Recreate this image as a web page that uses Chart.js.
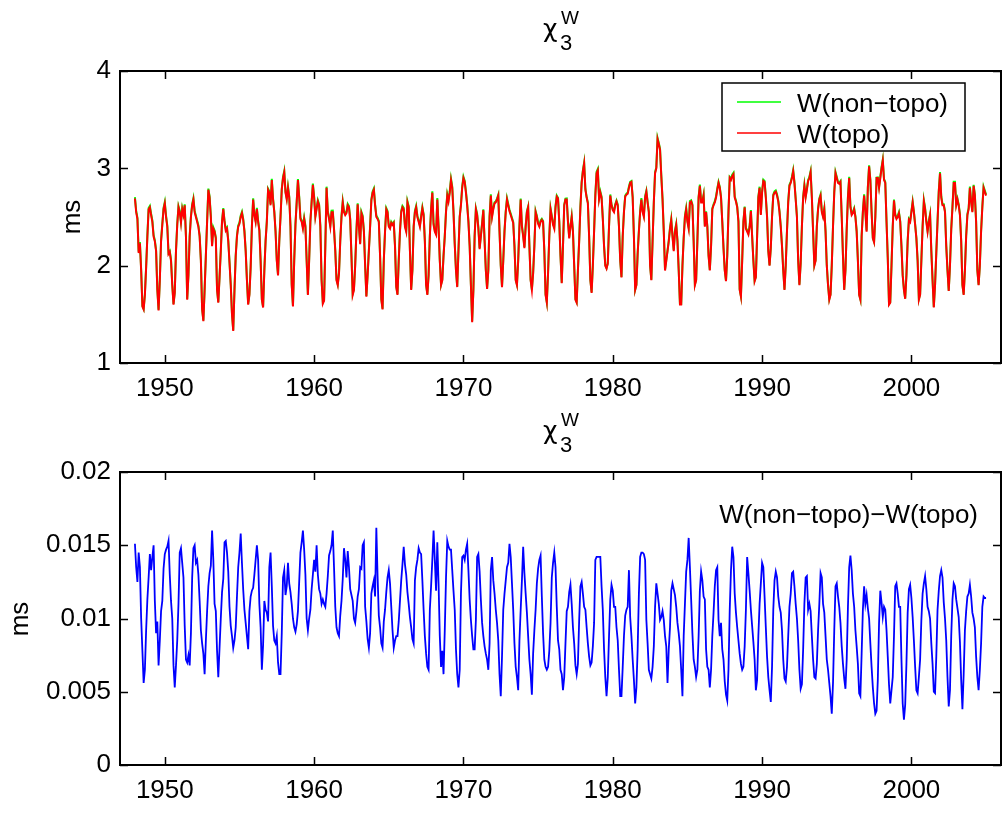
<!DOCTYPE html>
<html>
<head>
<meta charset="utf-8">
<script src="https://cdn.jsdelivr.net/npm/chart.js@4.4.1/dist/chart.umd.min.js"></script>
<style>
  body { margin: 0; background: #fff; }
  canvas { position: absolute; left: 0; }
</style>
</head>
<body>
<canvas id="topoChart" width="1005" height="402" style="top:0"></canvas>
<canvas id="diffChart" width="1005" height="411" style="top:402px"></canvas>
<script>
// monthly samples, first one at 1948.0
const startYear = 1948;
const stepsPerYear = 12;

const xTicks = [1950, 1960, 1970, 1980, 1990, 2000];
const topoTicks = [1, 2, 3, 4];
const diffTicks = [0, 0.005, 0.01, 0.015, 0.02];

const seriesNames = ["W(non\u2212topo)", "W(topo)"];
const diffName = "W(non\u2212topo)\u2212W(topo)";

// W(topo), ms
const wTopo = [
  2.69, 2.55, 2.48, 2.13, 2.23, 1.95, 1.58, 1.55, 1.70, 1.98, 2.30, 2.58, // 1948
  2.60, 2.52, 2.45, 2.30, 2.25, 2.15, 1.75, 1.54, 1.85, 2.25, 2.42, 2.58,
  2.64, 2.50, 2.40, 2.12, 2.14, 2.05, 1.80, 1.60, 1.72, 2.15, 2.42, 2.60, // 1950
  2.55, 2.44, 2.58, 2.52, 2.62, 2.30, 1.65, 1.90, 2.30, 2.50, 2.62, 2.68,
  2.55, 2.50, 2.45, 2.40, 2.30, 2.05, 1.55, 1.43, 1.75, 2.10, 2.45, 2.78,
  2.70, 2.50, 2.20, 2.38, 2.35, 2.28, 1.75, 1.62, 1.88, 2.15, 2.45, 2.58,
  2.45, 2.36, 2.38, 2.25, 2.03, 1.80, 1.50, 1.33, 1.75, 2.10, 2.30, 2.40,
  2.43, 2.50, 2.54, 2.47, 2.35, 2.15, 1.85, 1.60, 1.70, 1.98, 2.40, 2.68, // 1955
  2.52, 2.45, 2.58, 2.45, 2.36, 2.05, 1.65, 1.57, 1.95, 2.25, 2.45, 2.78,
  2.75, 2.62, 2.88, 2.68, 2.55, 2.35, 2.05, 1.90, 2.25, 2.50, 2.78, 2.90,
  2.96, 2.75, 2.68, 2.80, 2.70, 2.40, 1.80, 1.58, 2.05, 2.42, 2.65, 2.88,
  2.70, 2.48, 2.45, 2.38, 2.48, 2.40, 2.05, 1.70, 2.05, 2.45, 2.65, 2.83,
  2.70, 2.50, 2.58, 2.66, 2.62, 2.40, 1.85, 1.61, 1.64, 2.20, 2.80, 2.55, // 1960
  2.48, 2.40, 2.55, 2.55, 2.37, 2.15, 1.85, 1.80, 1.92, 2.25, 2.50, 2.65,
  2.55, 2.52, 2.54, 2.62, 2.60, 2.47, 2.10, 1.70, 1.75, 2.00, 2.35, 2.63,
  2.40, 2.22, 2.54, 2.50, 2.35, 2.00, 1.68, 1.90, 2.15, 2.40, 2.67, 2.75,
  2.78, 2.62, 2.50, 2.48, 2.45, 2.10, 1.65, 1.55, 2.05, 2.35, 2.58, 2.55,
  2.40, 2.38, 2.44, 2.42, 2.44, 2.20, 1.78, 1.70, 2.05, 2.35, 2.55, 2.60, // 1965
  2.58, 2.40, 2.35, 2.65, 2.60, 2.15, 1.75, 1.95, 2.40, 2.55, 2.60, 2.50,
  2.45, 2.40, 2.50, 2.59, 2.52, 2.25, 1.80, 1.70, 1.90, 2.30, 2.58, 2.75,
  2.42, 2.35, 2.32, 2.68, 2.40, 2.05, 1.80, 1.85, 2.10, 2.30, 2.55, 2.72,
  2.66, 2.75, 2.88, 2.80, 2.55, 2.22, 1.95, 1.78, 2.15, 2.50, 2.62, 2.80,
  2.90, 2.86, 2.75, 2.62, 2.45, 2.20, 1.80, 1.42, 1.75, 2.30, 2.58, 2.52, // 1970
  2.38, 2.17, 2.30, 2.43, 2.57, 2.25, 1.95, 1.76, 1.95, 2.50, 2.72, 2.50,
  2.58, 2.64, 2.65, 2.68, 2.72, 2.35, 2.00, 1.78, 2.05, 2.35, 2.55, 2.68,
  2.62, 2.56, 2.52, 2.48, 2.44, 2.20, 1.85, 1.80, 2.05, 2.40, 2.68, 2.40,
  2.30, 2.18, 2.40, 2.55, 2.60, 2.20, 1.85, 1.75, 1.92, 2.20, 2.55, 2.50,
  2.43, 2.40, 2.45, 2.47, 2.45, 2.15, 1.70, 1.62, 1.92, 2.30, 2.58, 2.50, // 1975
  2.42, 2.38, 2.60, 2.71, 2.69, 2.45, 2.10, 1.82, 2.20, 2.62, 2.68, 2.68,
  2.45, 2.28, 2.40, 2.50, 2.35, 2.00, 1.65, 1.62, 1.95, 2.25, 2.60, 2.85,
  2.97, 3.05, 2.78, 2.70, 2.64, 2.30, 1.85, 1.72, 2.00, 2.35, 2.72, 2.95,
  2.98, 2.68, 2.75, 2.70, 2.48, 2.20, 2.00, 1.97, 2.02, 2.40, 2.72, 2.62,
  2.57, 2.55, 2.62, 2.66, 2.62, 2.40, 2.05, 1.88, 2.30, 2.55, 2.71, 2.73, // 1980
  2.74, 2.80, 2.85, 2.86, 2.70, 2.30, 1.75, 1.80, 2.12, 2.35, 2.55, 2.68,
  2.55, 2.50, 2.70, 2.76, 2.65, 2.55, 2.00, 1.85, 2.25, 2.65, 2.95, 3.00,
  3.30, 3.25, 3.19, 2.92, 2.68, 2.35, 1.95, 2.05, 2.15, 2.25, 2.38, 2.47,
  2.30, 2.15, 2.35, 2.42, 2.25, 1.95, 1.60, 1.60, 2.00, 2.28, 2.50, 2.58,
  2.45, 2.38, 2.65, 2.66, 2.62, 2.25, 1.80, 1.85, 2.25, 2.70, 2.82, 2.65, // 1985
  2.65, 2.72, 2.40, 2.55, 2.40, 2.10, 1.95, 2.20, 2.58, 2.62, 2.65, 2.70,
  2.78, 2.85, 2.80, 2.70, 2.45, 2.18, 1.95, 1.84, 2.10, 2.55, 2.90, 2.88,
  2.92, 2.94, 2.70, 2.66, 2.60, 2.45, 1.75, 1.68, 2.05, 2.45, 2.60, 2.38,
  2.35, 2.32, 2.40, 2.56, 2.30, 2.05, 1.84, 1.88, 2.30, 2.70, 2.80, 2.52,
  2.75, 2.87, 2.86, 2.70, 2.50, 2.15, 2.00, 2.18, 2.50, 2.72, 2.75, 2.76, // 1990
  2.72, 2.66, 2.55, 2.40, 2.20, 1.95, 1.75, 2.00, 2.35, 2.65, 2.82, 2.85,
  2.90, 2.97, 2.85, 2.68, 2.50, 2.05, 1.80, 2.02, 2.40, 2.70, 2.82, 2.70,
  2.78, 2.87, 2.90, 2.96, 2.70, 2.35, 2.00, 2.05, 2.40, 2.58, 2.68, 2.72,
  2.55, 2.50, 2.58, 2.35, 2.00, 1.80, 1.65, 1.70, 2.00, 2.40, 2.75, 2.95,
  2.90, 2.85, 2.84, 2.86, 2.50, 2.10, 1.75, 1.95, 2.37, 2.70, 2.90, 2.60, // 1995
  2.52, 2.54, 2.58, 2.50, 2.35, 2.05, 1.70, 1.65, 2.30, 2.55, 2.72, 2.55,
  2.35, 2.80, 3.02, 2.88, 2.55, 2.28, 2.24, 2.50, 2.90, 2.90, 2.80, 2.90,
  3.00, 3.08, 2.88, 2.85, 2.45, 2.08, 1.60, 1.62, 2.00, 2.40, 2.67, 2.52,
  2.48, 2.50, 2.54, 2.45, 2.20, 1.90, 1.75, 1.66, 1.90, 2.25, 2.47, 2.45,
  2.55, 2.65, 2.55, 2.42, 2.28, 2.05, 1.65, 1.70, 2.05, 2.40, 2.66, 2.58, // 2000
  2.45, 2.35, 2.45, 2.52, 2.15, 1.85, 1.57, 1.80, 2.13, 2.45, 2.76, 2.95,
  2.70, 2.62, 2.62, 2.55, 2.20, 1.95, 1.74, 2.00, 2.37, 2.60, 2.85, 2.85,
  2.62, 2.68, 2.62, 2.52, 2.25, 1.80, 1.70, 1.95, 2.30, 2.52, 2.58, 2.80,
  2.65, 2.55, 2.82, 2.72, 2.45, 1.95, 1.80, 2.00, 2.35, 2.60, 2.80, 2.76,
  2.72 // 2005
];

// W(non-topo) - W(topo), ms
const wDiff = [
  .0151, .0135, .0125, .0145, .0135, .0100, .0078, .0056, .0065, .0092, .0113, .0128, // 1948
  .0144, .0133, .0142, .0150, .0112, .0090, .0098, .0068, .0085, .0105, .0112, .0134,
  .0144, .0147, .0149, .0153, .0130, .0112, .0100, .0068, .0053, .0068, .0085, .0110, // 1950
  .0145, .0148, .0138, .0128, .0095, .0072, .0070, .0075, .0068, .0090, .0128, .0148,
  .0150, .0138, .0140, .0130, .0112, .0092, .0083, .0076, .0062, .0085, .0105, .0122,
  .0131, .0136, .0160, .0140, .0110, .0105, .0078, .0060, .0080, .0100, .0118, .0127,
  .0152, .0153, .0145, .0132, .0108, .0095, .0088, .0080, .0085, .0094, .0115, .0135,
  .0145, .0158, .0138, .0120, .0106, .0097, .0088, .0079, .0105, .0115, .0119, .0121, // 1955
  .0130, .0140, .0150, .0140, .0110, .0094, .0065, .0082, .0112, .0106, .0104, .0098,
  .0135, .0145, .0122, .0095, .0085, .0083, .0088, .0070, .0062, .0062, .0090, .0128,
  .0133, .0116, .0122, .0138, .0124, .0118, .0110, .0100, .0094, .0091, .0096, .0105,
  .0125, .0145, .0152, .0160, .0147, .0130, .0100, .0092, .0100, .0106, .0120, .0130,
  .0140, .0132, .0150, .0130, .0120, .0117, .0110, .0113, .0110, .0108, .0117, .0129, // 1960
  .0143, .0146, .0150, .0160, .0135, .0108, .0094, .0090, .0088, .0102, .0112, .0127,
  .0148, .0140, .0128, .0146, .0135, .0120, .0116, .0112, .0100, .0097, .0105, .0115,
  .0120, .0135, .0134, .0150, .0152, .0108, .0098, .0086, .0080, .0090, .0117, .0122,
  .0126, .0115, .0162, .0129, .0102, .0094, .0083, .0080, .0098, .0106, .0118, .0128,
  .0133, .0124, .0108, .0092, .0080, .0085, .0088, .0088, .0098, .0112, .0126, .0137, // 1965
  .0149, .0137, .0130, .0118, .0110, .0101, .0094, .0086, .0083, .0126, .0135, .0140,
  .0148, .0145, .0144, .0126, .0106, .0088, .0076, .0067, .0065, .0106, .0122, .0140,
  .0160, .0140, .0119, .0152, .0124, .0088, .0067, .0078, .0062, .0092, .0128, .0153,
  .0149, .0147, .0147, .0133, .0119, .0106, .0079, .0062, .0053, .0065, .0117, .0142,
  .0143, .0140, .0147, .0151, .0133, .0113, .0099, .0088, .0079, .0079, .0099, .0142, // 1970
  .0144, .0132, .0113, .0097, .0088, .0081, .0076, .0072, .0065, .0083, .0133, .0142,
  .0126, .0117, .0106, .0097, .0085, .0062, .0047, .0074, .0106, .0117, .0126, .0135,
  .0138, .0151, .0142, .0124, .0106, .0083, .0067, .0060, .0051, .0085, .0106, .0126,
  .0149, .0131, .0117, .0104, .0088, .0072, .0062, .0048, .0076, .0092, .0106, .0124,
  .0134, .0140, .0143, .0115, .0090, .0072, .0067, .0065, .0067, .0078, .0097, .0128, // 1975
  .0138, .0145, .0135, .0108, .0085, .0079, .0065, .0062, .0051, .0060, .0083, .0105,
  .0108, .0118, .0123, .0110, .0094, .0083, .0068, .0062, .0069, .0099, .0122, .0125,
  .0117, .0108, .0106, .0094, .0083, .0074, .0068, .0070, .0081, .0097, .0140, .0142,
  .0142, .0142, .0142, .0122, .0106, .0079, .0060, .0047, .0060, .0088, .0113, .0123,
  .0119, .0108, .0108, .0094, .0085, .0065, .0047, .0047, .0067, .0088, .0102, .0106, // 1980
  .0108, .0133, .0101, .0088, .0072, .0058, .0042, .0053, .0079, .0117, .0142, .0145,
  .0145, .0144, .0140, .0099, .0083, .0065, .0062, .0059, .0067, .0081, .0108, .0124,
  .0117, .0110, .0099, .0101, .0105, .0099, .0088, .0081, .0056, .0079, .0094, .0119,
  .0124, .0120, .0116, .0108, .0097, .0090, .0081, .0065, .0047, .0088, .0110, .0132,
  .0140, .0155, .0135, .0113, .0090, .0072, .0067, .0060, .0065, .0088, .0119, .0132, // 1985
  .0126, .0115, .0113, .0079, .0067, .0065, .0053, .0065, .0088, .0104, .0122, .0133,
  .0135, .0099, .0088, .0097, .0079, .0072, .0057, .0048, .0044, .0065, .0106, .0133,
  .0149, .0142, .0117, .0104, .0094, .0085, .0076, .0069, .0065, .0067, .0081, .0106,
  .0142, .0131, .0119, .0106, .0095, .0084, .0072, .0051, .0058, .0088, .0110, .0124,
  .0138, .0135, .0115, .0094, .0074, .0060, .0051, .0043, .0067, .0106, .0126, .0132, // 1990
  .0128, .0115, .0108, .0104, .0092, .0072, .0059, .0057, .0067, .0088, .0108, .0117,
  .0131, .0132, .0122, .0110, .0100, .0085, .0065, .0052, .0055, .0079, .0110, .0128,
  .0129, .0106, .0110, .0105, .0088, .0072, .0060, .0059, .0069, .0092, .0110, .0131,
  .0128, .0110, .0104, .0088, .0072, .0065, .0056, .0047, .0035, .0056, .0092, .0122,
  .0124, .0115, .0108, .0097, .0081, .0069, .0059, .0052, .0072, .0108, .0135, .0143, // 1995
  .0133, .0117, .0108, .0092, .0081, .0069, .0049, .0047, .0076, .0106, .0122, .0110,
  .0116, .0107, .0100, .0083, .0067, .0053, .0042, .0035, .0037, .0058, .0097, .0119,
  .0111, .0101, .0108, .0106, .0092, .0074, .0055, .0042, .0051, .0060, .0088, .0122,
  .0124, .0117, .0108, .0108, .0072, .0042, .0031, .0041, .0069, .0104, .0120, .0123,
  .0114, .0101, .0085, .0067, .0051, .0049, .0060, .0072, .0099, .0117, .0124, .0129, // 2000
  .0120, .0108, .0105, .0100, .0083, .0069, .0050, .0049, .0074, .0106, .0119, .0129,
  .0133, .0128, .0111, .0100, .0085, .0060, .0040, .0051, .0088, .0113, .0124, .0122,
  .0113, .0107, .0101, .0084, .0058, .0038, .0062, .0092, .0105, .0115, .0117, .0123,
  .0115, .0104, .0100, .0094, .0074, .0060, .0051, .0065, .0083, .0108, .0115, .0114,
  .0114 // 2005
];

// W(non-topo) is W(topo) plus the difference plotted in the lower panel
const wNonTopo = wTopo.map((v, i) => v + wDiff[i]);

const toPoints = (vals) => vals.map((y, i) => ({ x: startYear + i / stepsPerYear, y }));

const FONT = '"Liberation Sans", Arial, sans-serif';

// matlab-like frame: closed box, inward ticks, χ₃ᵂ title and "ms" label
const matlabFrame = {
	id: "matlabFrame",
	afterDatasetsDraw(chart, args, opts) {
		const { ctx, chartArea: a, scales } = chart;
		ctx.save();
		ctx.strokeStyle = "#000";
		ctx.lineWidth = 1.5;
		ctx.beginPath();
		for (const t of scales.x.ticks) {
			const px = Math.round(scales.x.getPixelForValue(t.value)) + 0.5;
			ctx.moveTo(px, a.bottom);
			ctx.lineTo(px, a.bottom - 8);
			ctx.moveTo(px, a.top);
			ctx.lineTo(px, a.top + 8);
		}
		for (const t of scales.y.ticks) {
			const py = Math.round(scales.y.getPixelForValue(t.value)) + 0.5;
			ctx.moveTo(a.left, py);
			ctx.lineTo(a.left + 8, py);
			ctx.moveTo(a.right, py);
			ctx.lineTo(a.right - 8, py);
		}
		ctx.stroke();
		ctx.lineWidth = 2;
		ctx.strokeRect(a.left, a.top, a.right - a.left, a.bottom - a.top);

		// title: curly chi with a tail below the baseline
		ctx.fillStyle = "#000";
		ctx.textAlign = "left";
		ctx.textBaseline = "alphabetic";
		ctx.font = '25px "DejaVu Sans", sans-serif';
		ctx.fillText("\u03c7", 543, 37);
		ctx.font = "22px " + FONT;
		ctx.fillText("3", 560, 50);
		ctx.font = "19px " + FONT;
		ctx.fillText("W", 561, 24);

		// y axis label
		ctx.translate(opts.ylabelX, 217);
		ctx.rotate(-Math.PI / 2);
		ctx.textAlign = "center";
		ctx.font = "26px " + FONT;
		ctx.fillText("ms", 0, 0);
		ctx.restore();
	},
};

// boxed legend in the upper right of the top panel
const legendBox = {
	id: "legendBox",
	afterDraw(chart) {
		const { ctx } = chart;
		const rows = chart.data.datasets;
		ctx.save();
		ctx.fillStyle = "#fff";
		ctx.fillRect(722, 83, 243, 68);
		ctx.strokeStyle = "#000";
		ctx.lineWidth = 1.5;
		ctx.strokeRect(722, 83, 243, 68);
		ctx.font = "26px " + FONT;
		ctx.textAlign = "left";
		ctx.textBaseline = "alphabetic";
		rows.forEach((ds, k) => {
			const y = 102 + k * 31;
			ctx.strokeStyle = ds.borderColor;
			ctx.lineWidth = 1.5;
			ctx.beginPath();
			ctx.moveTo(737, y);
			ctx.lineTo(781, y);
			ctx.stroke();
			ctx.fillStyle = "#000";
			ctx.fillText(ds.label, 797, y + 10);
		});
		ctx.restore();
	},
};

// plain text label for the lower panel
const diffNote = {
	id: "diffNote",
	afterDraw(chart) {
		const { ctx } = chart;
		ctx.save();
		ctx.fillStyle = "#000";
		ctx.font = "26px " + FONT;
		ctx.textAlign = "right";
		ctx.textBaseline = "alphabetic";
		ctx.fillText(chart.data.datasets[0].label, 978, 121);
		ctx.restore();
	},
};

const makeOptions = (yMin, yMax, yTickVals, padTop, xHeight, ylabelX) => ({
	responsive: false,
	animation: false,
	events: [],
	layout: { padding: { top: padTop, right: 4, left: 0, bottom: 0 } },
	plugins: {
		legend: { display: false },
		title: { display: false },
		tooltip: { enabled: false },
		matlabFrame: { ylabelX },
	},
	scales: {
		x: {
			type: "linear",
			min: 1947,
			max: 2006,
			afterBuildTicks: (s) => { s.ticks = xTicks.map((v) => ({ value: v })); },
			afterFit: (s) => { s.height = xHeight; },
			grid: { display: false, drawTicks: false },
			border: { display: false },
			ticks: { color: "#000", padding: 10, font: { size: 26, family: FONT }, callback: (v) => String(v), maxRotation: 0 },
		},
		y: {
			type: "linear",
			min: yMin,
			max: yMax,
			afterBuildTicks: (s) => { s.ticks = yTickVals.map((v) => ({ value: v })); },
			afterFit: (s) => { s.width = 120; },
			grid: { display: false, drawTicks: false },
			border: { display: false },
			ticks: { color: "#000", padding: 9, font: { size: 26, family: FONT }, callback: (v) => String(v) },
		},
	},
});

new Chart(document.getElementById("topoChart"), {
	type: "line",
	data: {
		datasets: [
			{
				label: seriesNames[0],
				data: toPoints(wNonTopo),
				borderColor: "#00ff00",
				borderWidth: 2,
				pointRadius: 0,
				tension: 0,
				order: 1,
			},
			{
				label: seriesNames[1],
				data: toPoints(wTopo),
				borderColor: "#ff0000",
				borderWidth: 2,
				pointRadius: 0,
				tension: 0,
				order: 0,
			},
		],
	},
	options: makeOptions(1, 4, topoTicks, 71, 39, 80),
	plugins: [matlabFrame, legendBox],
});

new Chart(document.getElementById("diffChart"), {
	type: "line",
	data: {
		datasets: [
			{
				label: diffName,
				data: toPoints(wDiff),
				borderColor: "#0000ff",
				borderWidth: 1.8,
				pointRadius: 0,
				tension: 0,
			},
		],
	},
	options: makeOptions(0, 0.02, diffTicks, 70, 48, 28),
	plugins: [matlabFrame, diffNote],
});
</script>
</body>
</html>
